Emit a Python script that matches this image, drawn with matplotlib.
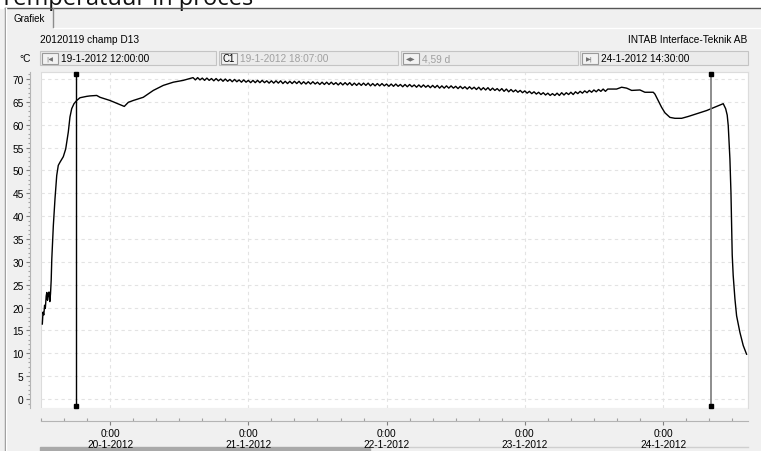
import numpy as np
import pandas as pd
import matplotlib
matplotlib.use("Agg")
import matplotlib.pyplot as plt
import matplotlib.dates as mdates
from matplotlib.patches import Rectangle
from matplotlib.ticker import MultipleLocator, FuncFormatter

T0 = pd.Timestamp("2012-01-19 12:00")

# heating up: hours after 19-1-2012 12:00 and temperature (degC)
start_hours = [0.23, 0.35, 0.49, 0.62, 0.75, 0.90, 1.01, 1.13, 1.27, 1.39,
               1.53, 1.65, 1.77, 1.87, 2.14, 2.43, 2.73, 3.00, 3.30, 3.87,
               4.29, 4.74, 5.03, 5.33, 5.73, 6.20, 6.77, 7.93, 8.51, 9.67,
               10.24, 11.98, 13.71, 14.46, 15.16, 16.02, 17.76, 19.50, 21.23,
               22.97, 24.70]
start_temp = [16.4, 19.0, 18.4, 20.5, 19.8, 22.5, 23.3, 21.6, 23.0, 23.4,
              21.3, 23.0, 26.0, 30.5, 37.9, 43.8, 48.9, 51.1, 51.8, 53.0,
              54.7, 58.4, 61.7, 63.5, 64.6, 65.3, 65.9, 66.2, 66.3, 66.4,
              66.0, 65.3, 64.4, 64.0, 64.9, 65.3, 66.0, 67.5, 68.6,
              69.3, 69.7]

# plateau, logged every 24 minutes starting 20-1-2012 14:24
plateau_first_hour = 26.4
plateau_step_hours = 0.4
plateau_temp = [
    70.3, 69.8, 70.3, 69.8, 70.2, 69.7, 70.2, 69.7, 70.1, 69.6, 70.1, 69.6,
    70.0, 69.5, 70.0, 69.5, 69.9, 69.4, 69.9, 69.4, 69.8, 69.3, 69.8, 69.3,
    69.7, 69.2, 69.7, 69.2, 69.7, 69.2, 69.7, 69.2, 69.6, 69.1, 69.6, 69.1,
    69.6, 69.1, 69.6, 69.0, 69.5, 69.0, 69.5, 69.0, 69.5, 69.0, 69.5, 68.9,
    69.4, 68.9, 69.4, 68.9, 69.4, 68.9,
    69.3, 68.8, 69.3, 68.8, 69.3, 68.8, 69.3, 68.8, 69.2, 68.7, 69.2, 68.7,
    69.2, 68.7, 69.2, 68.6, 69.1, 68.6, 69.1, 68.6, 69.1, 68.6, 69.1, 68.5,
    69.0, 68.5, 69.0, 68.5, 69.0, 68.5,
    68.9, 68.4, 68.9, 68.4, 68.9, 68.4, 68.8, 68.3, 68.8, 68.3, 68.8, 68.3,
    68.7, 68.2, 68.7, 68.2, 68.7, 68.2, 68.6, 68.1, 68.6, 68.1, 68.6, 68.0,
    68.5, 68.0, 68.5, 68.0, 68.5, 68.0,
    68.4, 67.9, 68.4, 67.9, 68.3, 67.8, 68.3, 67.8, 68.2, 67.7, 68.2, 67.6,
    68.1, 67.6, 68.1, 67.5, 68.0, 67.5,
    67.9, 67.4, 67.9, 67.3, 67.8, 67.2, 67.7, 67.2, 67.6, 67.1, 67.5, 67.0,
    67.4, 66.9, 67.3, 66.8, 67.2, 66.7, 67.1, 66.6, 67.0, 66.5, 66.9, 66.4,
    66.8, 66.4, 66.9, 66.4, 67.0, 66.5, 67.0, 66.6, 67.1,
    66.6, 67.2, 66.8, 67.3, 66.9, 67.4, 67.0, 67.5, 67.1,
    67.6, 67.2, 67.7, 67.3, 67.8, 67.3, 67.8,
]

# cooling down at the end
end_hours = [99.94, 100.81, 101.68, 102.55, 103.99, 104.85, 106.30, 106.59,
             107.16, 107.75, 108.33, 109.20, 110.06, 111.23, 112.37, 113.83,
             115.57, 117.30, 118.45, 118.87, 119.14, 119.32, 119.61, 119.79,
             119.91, 120.01, 120.18, 120.48, 120.77, 121.34, 121.92, 122.50]
end_temp = [67.8, 68.2, 68.0, 67.5, 67.6, 67.1, 67.1, 66.7,
            65.3, 63.8, 62.6, 61.6, 61.4, 61.4, 61.8, 62.4,
            63.1, 64.0, 64.6, 63.5, 62.1, 59.8, 52.5, 45.2,
            37.9, 31.5, 27.0, 21.9, 18.2, 14.6, 11.7, 9.8]

cursor_c1 = pd.Timestamp("2012-01-19 18:07")
cursor_c2 = pd.Timestamp("2012-01-24 08:17")
x_start = pd.Timestamp("2012-01-19 12:00")
x_end = pd.Timestamp("2012-01-24 14:45")

title = "Temperatuur in proces"
tab_name = "Grafiek"
header_left = "20120119 champ D13"
header_right = "INTAB Interface-Teknik AB"
unit = "°C"
box_texts = ["19-1-2012 12:00:00", "19-1-2012 18:07:00", "4,59 d", "24-1-2012 14:30:00"]
box_icons = ["|◀", "C1", "◀▶", "▶|"]

plateau_hours = plateau_first_hour + plateau_step_hours * np.arange(len(plateau_temp))
hours = np.concatenate([start_hours, plateau_hours, end_hours])
temps = np.concatenate([start_temp, plateau_temp, end_temp])
times = T0 + pd.to_timedelta(hours, unit="h")

W, H = 761, 452
FONT = "Liberation Sans"
fig = plt.figure(figsize=(W / 100, H / 100), dpi=100, facecolor="#f0f0f0")

# window chrome, drawn in pixel coordinates
bg = fig.add_axes([0, 0, 1, 1])
bg.set_xlim(0, W)
bg.set_ylim(H, 0)
bg.axis("off")
bg.set_zorder(0)
bg.add_patch(Rectangle((0, 0), W, 8.5, color="white", zorder=0))
# the title is cut off by the top edge in the original screenshot
bg.text(0, 5, title, fontsize=17, family="Open Sans", color="#111111",
        va="baseline", ha="left", zorder=1)
bg.plot([4.5, W], [8.5, 8.5], color="#555555", lw=1)
bg.plot([4.5, 4.5], [8.5, H], color="#8c8c8c", lw=1)
bg.plot([5.5, 5.5], [9, H], color="white", lw=1)
bg.plot([52.5, 52.5], [9, 28], color="#8c8c8c", lw=1)
bg.plot([53.5, W], [28.5, 28.5], color="white", lw=1)
bg.text(13, 19, tab_name, fontsize=7, family=FONT, va="center")
bg.text(40, 40, header_left, fontsize=7.3, family=FONT, va="center")
bg.text(747, 40, header_right, fontsize=7.3, family=FONT, va="center", ha="right")
bg.text(31, 59, unit, fontsize=7.3, family=FONT, va="center", ha="right")

boxes = [(40, 216), (219, 398), (401, 578), (580, 748)]
text_colors = ["black", "#a0a0a0", "#a0a0a0", "black"]
for (x0, x1), icon, txt, col in zip(boxes, box_icons, box_texts, text_colors):
    bg.add_patch(Rectangle((x0, 52), x1 - x0, 14, facecolor="#ebebeb",
                           edgecolor="#c4c4c4", lw=0.8))
    bg.add_patch(Rectangle((x0 + 1.5, 53.5), 16, 11, facecolor="#f2f2f2",
                           edgecolor="#9a9a9a", lw=0.8))
    if icon == "C1":
        bg.text(x0 + 9.5, 59.5, icon, fontsize=7, family=FONT, ha="center", va="center")
    else:
        bg.text(x0 + 9.5, 59.5, icon, fontsize=4.5, family="DejaVu Sans",
                ha="center", va="center", color="#707070")
    bg.text(x0 + 21, 59.5, txt, fontsize=7.3, family=FONT, va="center", color=col)

bg.add_patch(Rectangle((40, 448), 330, 4, color="#a9a9a9"))
bg.plot([370, 748], [447.5, 447.5], color="#cfcfcf", lw=1)

# the chart itself
ax = fig.add_axes([41 / W, 1 - 409 / H, 707 / W, 336 / H])
ax.set_zorder(1)
ax.set_facecolor("white")
ax.set_xlim(x_start, x_end)
ax.set_ylim(-1.97, 71.53)

ax.plot(times, temps, color="black", lw=1.0, zorder=3)
ax.plot([cursor_c1, cursor_c1], [71.1, -1.5], color="black", lw=1, marker="s",
        ms=3.3, mfc="black", mec="black", clip_on=False, zorder=4)
ax.plot([cursor_c2, cursor_c2], [71.1, -1.5], color="#7a7a7a", lw=1.2, zorder=4)
ax.plot([cursor_c2, cursor_c2], [71.1, -1.5], ls="none", marker="s",
        ms=3.3, mfc="black", mec="black", clip_on=False, zorder=4)

for side in ["top", "right"]:
    ax.spines[side].set_color("#dcdcdc")
ax.spines["left"].set_position(("outward", 8))
ax.spines["bottom"].set_position(("outward", 9))
ax.spines["left"].set_color("#b4b4b4")
ax.spines["bottom"].set_color("#b4b4b4")
ax.add_patch(Rectangle((0, 0), 1, 1, transform=ax.transAxes, fill=False,
                       edgecolor="#dcdcdc", lw=0.8, zorder=0.5))

ax.yaxis.set_major_locator(MultipleLocator(5))
ax.yaxis.set_minor_locator(MultipleLocator(1))
ax.xaxis.set_major_locator(mdates.DayLocator())
ax.xaxis.set_minor_locator(mdates.HourLocator(byhour=[4, 8, 12, 16, 20]))


def day_label(v, pos):
    d = mdates.num2date(v)
    return f"{d.hour}:{d.minute:02d}\n{d.day}-{d.month}-{d.year}"


ax.xaxis.set_major_formatter(FuncFormatter(day_label))
ax.tick_params(axis="y", which="major", length=3, width=0.8, color="#808080",
               pad=1.5, labelsize=7.3)
ax.tick_params(axis="y", which="minor", length=1.5, width=0.8, color="#a0a0a0")
ax.tick_params(axis="x", which="major", length=3, width=0.8, color="#808080",
               pad=2.5, labelsize=7.3)
ax.tick_params(axis="x", which="minor", length=2, width=0.8, color="#a0a0a0",
               direction="in")
for lab in ax.get_xticklabels() + ax.get_yticklabels():
    lab.set_family(FONT)
    lab.set_linespacing(1.05)

ax.grid(True, which="major", color="#e3e3e3", linestyle=(0, (3, 3)), lw=0.8)

fig.savefig("out.png", dpi=100, facecolor=fig.get_facecolor())
